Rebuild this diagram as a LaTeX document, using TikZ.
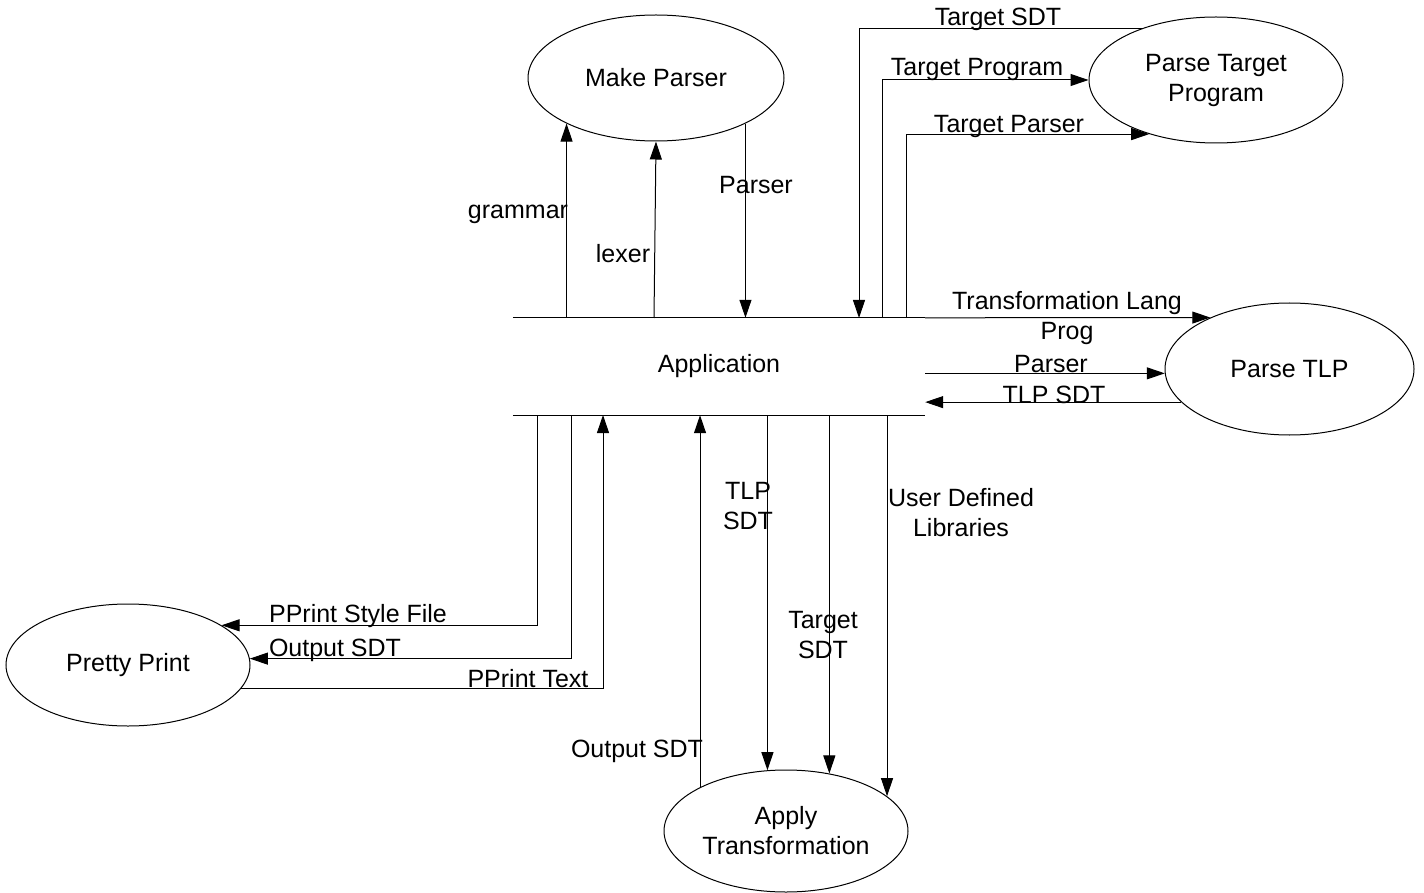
\documentclass[tikz,border=0pt]{standalone}
\usepackage{fontspec}
\setmainfont{Liberation Sans}
\usetikzlibrary{shapes.geometric,arrows.meta}
\tikzset{
  proc/.style={ellipse, draw, line width=1pt, inner sep=0pt, align=center},
  flow/.style={line width=1pt, -{Triangle[length=18pt,width=12pt]}},
  storeline/.style={line width=1pt},
  lbl/.style={anchor=base, align=center, inner sep=0pt},
}
\begin{document}
\begin{tikzpicture}[x=1pt, y=-1pt, font=\fontsize{25}{30}\selectfont]
\useasboundingbox (0,0) rectangle (1424,893);

% processes
\node[proc, minimum width=256pt, minimum height=126pt] (mp) at (656,78) {Make Parser};
\node[proc, minimum width=254pt, minimum height=126pt] (pt) at (1216,80) {Parse Target\\Program};
\node[proc, minimum width=249pt, minimum height=132pt] (tl) at (1289.5,369) {Parse TLP};
\node[proc, minimum width=244pt, minimum height=122pt] (pp) at (128,665) {Pretty Print};
\node[proc, minimum width=244pt, minimum height=122pt] (at) at (786,831) {Apply\\Transformation};

% data store
\node[minimum width=412pt, minimum height=97pt, inner sep=0pt] (app) at (719,366.5) {Application};
\draw[storeline] (app.north west) -- (app.north east);
\draw[storeline] (app.south west) -- (app.south east);

% ports on the data store
\coordinate (lx) at (654,318);
\coordinate (tsdt) at (859,318);
\coordinate (tprog) at (882,318);
\coordinate (tpars) at (906,318);
\coordinate (pstyle) at (537,415);
\coordinate (pout) at (571,415);
\coordinate (ptext) at (603,415);

% flows
\draw[flow] (app.north -| mp.207.4) -- (mp.207.4);
\draw[flow] (lx) -- (mp.south);
\draw[flow] (mp.333.5) -- (app.north -| mp.333.5);
\draw[flow] (pt.145.8) -| (tsdt);
\draw[flow] (tprog) |- (pt.west);
\draw[flow] (tpars) |- (pt.219.3);
\draw[flow] (app.north east) -- (tl.147.1);
\draw[flow] (app.east |- tl.182.8) -- (tl.182.8);
\draw[flow] (tl.197.1) -- (app.east |- tl.197.1);
\draw[flow] (pstyle) |- (pp.23.5);
\draw[flow] (pout) |- (pp.3.8);
\draw[flow] (pp.348.5) -| (ptext);
\draw[flow] (at.153.4) -- (app.south -| at.153.4);
\draw[flow] (app.south -| at.107.5) -- (at.107.5);
\draw[flow] (app.south -| at.53.8) -- (at.53.8);
\draw[flow] (app.south -| at.19.3) -- (at.19.3);

% flow labels (base anchor = baseline of the last line)
\node[lbl] (lgram) at (518,219) {grammar};
\node[lbl] (llex) at (623,263) {lexer};
\node[lbl] (lpars) at (756,194) {Parser};
\node[lbl] (ltsdt) at (998,26) {Target SDT};
\node[lbl] (ltprog) at (977,76) {Target Program};
\node[lbl] (ltpars) at (1009,133) {Target Parser};
\node[lbl] (ltlp) at (1067,339) {Transformation Lang\\Prog};
\node[lbl] (lpars2) at (1051,372) {Parser};
\node[lbl] (ltlpsdt) at (1054,403) {TLP SDT};
\node[lbl] (ltlpsdt2) at (748,529) {TLP\\SDT};
\node[lbl] (luser) at (961,536) {User Defined\\Libraries};
\node[lbl] (ltgsdt) at (823,658) {Target\\SDT};
\node[lbl] (lstyle) at (358,622) {PPrint Style File};
\node[lbl] (lout) at (335,656) {Output SDT};
\node[lbl] (ltext) at (528,687) {PPrint Text};
\node[lbl] (lout2) at (637,757) {Output SDT};
\end{tikzpicture}
\end{document}
